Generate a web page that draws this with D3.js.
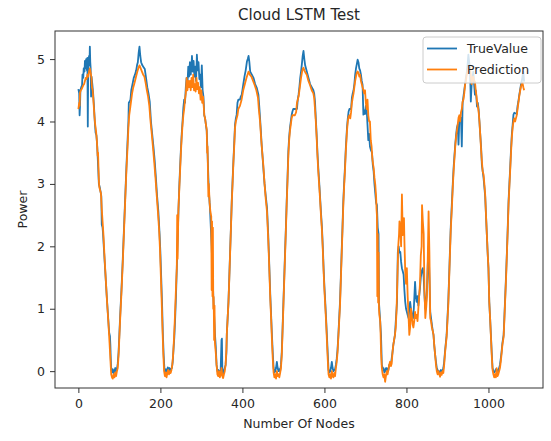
<!DOCTYPE html>
<html>
<head>
<meta charset="utf-8">
<script src="https://cdn.jsdelivr.net/npm/d3@7"></script>
<style>
  body { margin: 0; background: #fff; }
  text { font-family: "DejaVu Sans", sans-serif; fill: #262626; }
</style>
</head>
<body>
<svg id="chart"></svg>
<script>
// chart values: [node index, power]
const trueValue = [[0,4.52],[2,4.45],[3,4.1],[4,4.25],[5,4.5],[7,4.55],[9,4.58],[10,4.75],[12,4.7],[13,4.85],[15,4.8],[16,4.97],[18,4.85],[19,5.0],[21,4.82],[22,5.02],[23,3.92],[24,4.88],[26,5.05],[27,4.9],[28,5.2],[29,4.95],[30,4.85],[31,4.4],[32,4.72],[34,4.6],[36,4.45],[38,4.25],[40,4.0],[42,3.82],[44,3.78],[46,3.6],[48,3.3],[50,3.0],[52,2.95],[54,2.88],[56,2.8],[57,2.35],[59,2.3],[60,2.22],[63,1.88],[66,1.55],[69,1.22],[72,0.92],[75,0.62],[77,0.56],[78,0.42],[79,0.2],[80,0.05],[82,-0.02],[84,0.03],[86,-0.03],[88,0.0],[90,0.05],[92,0.0],[94,0.03],[96,0.12],[98,0.3],[100,0.6],[102,0.9],[105,1.3],[108,1.75],[111,2.25],[114,2.75],[117,3.25],[120,3.7],[122,4.0],[123,4.3],[125,4.32],[127,4.35],[129,4.5],[132,4.6],[135,4.7],[138,4.75],[141,4.82],[143,4.9],[145,4.95],[147,5.1],[149,5.2],[151,5.05],[153,4.95],[156,4.9],[159,4.87],[162,4.84],[165,4.7],[168,4.55],[171,4.45],[174,4.32],[177,4.0],[180,3.8],[183,3.6],[186,3.38],[189,3.1],[192,2.8],[195,2.56],[198,2.2],[200,1.9],[202,1.5],[204,1.1],[206,0.6],[208,0.25],[210,0.02],[212,-0.04],[214,0.03],[216,-0.03],[218,0.06],[220,0.0],[222,0.05],[224,0.0],[226,0.04],[228,0.05],[230,0.15],[232,0.35],[234,0.55],[236,0.85],[238,1.2],[240,1.65],[242,2.1],[244,2.56],[246,2.95],[248,3.26],[250,3.55],[252,3.8],[254,4.0],[256,4.22],[258,4.35],[260,4.3],[262,4.55],[264,4.7],[266,4.6],[268,4.88],[270,4.72],[272,4.95],[274,4.75],[276,4.9],[277,5.05],[279,4.8],[281,4.97],[283,4.72],[285,4.88],[287,4.65],[289,5.07],[291,4.82],[293,4.95],[295,4.68],[297,4.75],[299,4.55],[301,4.9],[303,4.5],[305,4.4],[307,4.1],[309,4.05],[311,3.95],[313,3.85],[315,3.5],[317,3.1],[319,2.8],[321,2.6],[323,2.3],[325,2.0],[327,1.6],[329,1.2],[331,0.9],[333,0.6],[335,0.4],[337,0.1],[339,0.0],[341,0.02],[343,-0.02],[345,0.0],[347,0.02],[349,0.5],[350,0.52],[351,0.05],[353,-0.05],[355,0.0],[357,0.05],[359,0.1],[361,0.3],[362,0.6],[364,0.85],[366,1.11],[368,1.5],[370,1.91],[372,2.3],[374,2.72],[376,3.05],[378,3.36],[380,3.65],[382,3.95],[384,4.05],[386,4.11],[388,4.3],[390,4.35],[394,4.35],[396,4.4],[398,4.42],[400,4.5],[402,4.59],[405,4.72],[408,4.82],[411,4.96],[413,5.0],[415,5.05],[417,4.95],[419,4.8],[423,4.75],[427,4.7],[431,4.6],[435,4.54],[439,4.43],[441,4.25],[443,4.06],[445,3.85],[447,3.62],[449,3.45],[451,3.26],[454,3.0],[457,2.8],[460,2.62],[463,2.18],[465,1.8],[468,1.22],[470,0.9],[472,0.58],[474,0.3],[476,0.05],[478,-0.02],[480,0.0],[482,0.05],[484,0.15],[486,0.05],[488,0.0],[490,0.03],[492,0.0],[494,0.1],[496,0.31],[498,0.7],[500,1.11],[502,1.5],[504,1.91],[506,2.3],[508,2.72],[510,3.1],[512,3.52],[514,3.75],[516,3.9],[518,4.0],[520,4.1],[522,4.16],[524,4.2],[533,4.2],[535,4.35],[537,4.43],[539,4.55],[541,4.7],[543,4.8],[545,4.92],[547,5.05],[549,5.13],[551,5.0],[553,4.9],[557,4.8],[561,4.7],[565,4.6],[569,4.55],[573,4.5],[575,4.45],[577,4.32],[579,4.05],[581,3.79],[583,3.5],[585,3.26],[588,2.95],[590,2.72],[592,2.5],[594,2.3],[596,2.0],[598,1.65],[600,1.35],[602,1.11],[604,0.85],[606,0.58],[608,0.3],[610,0.02],[612,-0.02],[614,0.0],[616,0.05],[618,0.15],[620,0.05],[622,0.0],[624,0.02],[626,0.03],[628,0.1],[630,0.2],[632,0.35],[634,0.58],[636,0.85],[638,1.11],[640,1.5],[642,1.91],[644,2.3],[646,2.72],[648,3.0],[650,3.26],[652,3.55],[655,3.9],[657,4.05],[659,4.16],[661,4.2],[665,4.2],[667,4.38],[669,4.45],[671,4.5],[673,4.6],[675,4.75],[677,4.85],[679,4.92],[681,4.99],[683,4.95],[685,4.85],[687,4.82],[689,4.75],[691,4.65],[693,4.59],[695,4.11],[697,4.18],[699,4.12],[701,4.25],[703,4.2],[705,3.95],[707,3.7],[709,3.8],[711,3.6],[713,3.55],[716,3.5],[718,3.3],[720,3.2],[722,3.0],[724,2.85],[726,2.7],[728,2.66],[730,2.3],[732,2.2],[733,1.1],[735,0.9],[736,0.8],[738,0.58],[740,0.1],[742,0.05],[744,0.05],[746,-0.02],[748,0.0],[750,0.05],[752,0.05],[754,0.0],[756,0.02],[758,0.1],[760,0.12],[762,0.1],[764,0.2],[766,0.3],[768,0.42],[770,0.5],[772,0.58],[774,0.8],[777,1.11],[779,1.91],[781,2.0],[783,1.9],[785,1.91],[787,1.75],[789,1.65],[791,1.6],[793,1.55],[795,1.3],[797,1.11],[799,1.0],[801,0.95],[803,0.9],[805,0.85],[807,1.0],[809,1.11],[811,1.0],[813,0.9],[816,0.85],[818,1.0],[821,1.43],[823,1.2],[825,1.11],[827,1.2],[829,1.05],[831,1.2],[833,1.33],[835,1.5],[837,1.6],[840,1.65],[842,1.5],[844,1.2],[846,1.0],[848,1.1],[850,1.3],[852,1.7],[854,2.0],[856,1.5],[858,0.95],[860,0.85],[862,0.75],[864,0.65],[866,0.58],[868,0.4],[870,0.26],[872,0.15],[874,0.05],[876,0.02],[878,0.0],[880,-0.03],[882,0.0],[884,0.02],[886,-0.02],[888,0.0],[890,0.05],[892,0.15],[894,0.31],[896,0.45],[898,0.58],[900,0.85],[902,1.11],[904,1.5],[906,1.91],[908,2.3],[911,2.72],[913,3.0],[915,3.26],[917,3.45],[919,3.63],[921,3.78],[923,3.9],[925,3.95],[927,3.63],[929,4.05],[931,4.03],[933,4.06],[935,3.6],[937,4.3],[939,4.4],[941,4.5],[943,4.6],[945,4.7],[947,4.78],[949,4.9],[951,5.07],[953,4.95],[955,4.85],[957,4.32],[959,4.6],[961,4.7],[963,4.8],[965,4.6],[967,4.43],[969,4.5],[971,4.35],[972,4.24],[974,4.3],[976,4.2],[978,4.0],[980,3.79],[982,3.6],[984,3.3],[986,3.2],[988,3.1],[990,2.95],[992,2.8],[994,2.5],[996,2.2],[998,1.9],[1000,1.65],[1002,1.11],[1004,0.85],[1006,0.58],[1008,0.3],[1010,0.05],[1012,0.0],[1014,-0.02],[1016,0.0],[1018,0.03],[1020,0.0],[1022,0.02],[1024,0.0],[1026,0.05],[1028,0.1],[1030,0.2],[1032,0.31],[1034,0.45],[1037,0.58],[1039,0.9],[1041,1.22],[1043,1.55],[1045,1.91],[1047,2.3],[1049,2.72],[1051,3.0],[1053,3.26],[1055,3.55],[1057,3.79],[1059,3.95],[1061,4.11],[1063,4.14],[1069,4.12],[1071,4.25],[1073,4.32],[1075,4.42],[1077,4.5],[1079,4.58],[1081,4.64],[1083,4.72],[1085,4.8],[1087,4.64]];

const prediction = [[0,4.2],[2,4.3],[3,4.25],[4,4.46],[6,4.5],[8,4.52],[10,4.55],[12,4.58],[14,4.6],[16,4.65],[18,4.7],[20,4.68],[22,4.75],[24,4.72],[26,4.8],[28,4.85],[30,4.78],[32,4.7],[33,4.55],[35,4.5],[37,4.3],[39,4.1],[41,3.95],[43,3.85],[45,3.7],[47,3.45],[48,3.5],[50,3.05],[51,2.95],[53,2.9],[55,2.85],[57,2.6],[59,2.4],[61,2.2],[64,1.8],[67,1.45],[70,1.1],[73,0.8],[76,0.45],[78,0.2],[80,-0.05],[82,-0.1],[84,-0.12],[86,-0.05],[88,-0.1],[90,-0.02],[92,-0.08],[94,0.0],[96,0.05],[98,0.25],[100,0.55],[102,0.85],[105,1.25],[108,1.7],[111,2.2],[114,2.7],[117,3.2],[120,3.6],[122,3.9],[124,4.1],[126,4.2],[128,4.3],[131,4.45],[134,4.55],[137,4.62],[140,4.7],[143,4.78],[146,4.85],[149,4.9],[152,4.85],[155,4.8],[158,4.75],[161,4.72],[164,4.62],[167,4.5],[170,4.4],[173,4.25],[176,4.0],[179,3.8],[182,3.58],[185,3.35],[188,3.1],[191,2.82],[194,2.55],[197,2.25],[199,1.95],[201,1.55],[203,1.15],[205,0.7],[207,0.3],[209,0.0],[211,-0.08],[213,-0.02],[215,-0.1],[217,-0.03],[219,0.02],[221,-0.05],[223,0.0],[225,-0.03],[227,0.02],[229,0.1],[231,0.25],[233,0.5],[235,0.8],[237,1.15],[239,1.5],[240,1.65],[241,2.5],[242,1.8],[243,2.2],[244,2.6],[246,2.9],[248,3.2],[250,3.5],[252,3.75],[254,3.95],[256,4.1],[258,4.2],[260,4.35],[262,4.45],[264,4.7],[266,4.5],[268,4.65],[270,4.55],[272,4.65],[274,4.5],[276,4.7],[278,4.55],[280,4.75],[282,4.5],[284,4.6],[286,4.48],[288,4.7],[290,4.52],[292,4.62],[294,4.45],[296,4.55],[298,4.35],[300,4.5],[302,4.3],[304,4.4],[305,4.32],[307,4.1],[309,4.05],[311,3.95],[313,3.87],[314,3.5],[315,3.6],[317,2.8],[318,3.0],[320,2.7],[322,2.55],[324,2.48],[325,1.3],[326,2.4],[327,1.2],[328,2.3],[329,1.0],[330,1.19],[331,0.5],[332,1.05],[333,0.45],[335,0.3],[337,0.1],[339,-0.05],[341,-0.08],[343,0.0],[345,-0.1],[347,-0.05],[349,0.05],[351,-0.08],[353,-0.11],[355,-0.05],[357,0.0],[359,0.1],[361,0.35],[362,0.6],[364,0.85],[366,1.1],[368,1.48],[370,1.88],[372,2.28],[374,2.7],[376,3.0],[378,3.33],[380,3.6],[382,3.9],[384,4.0],[386,4.05],[388,4.1],[390,4.2],[394,4.25],[398,4.35],[402,4.5],[406,4.6],[410,4.7],[413,4.76],[415,4.8],[418,4.75],[422,4.72],[426,4.65],[430,4.58],[434,4.5],[438,4.38],[440,4.2],[443,4.0],[446,3.7],[449,3.45],[451,3.3],[454,3.0],[457,2.75],[460,2.55],[463,2.1],[465,1.75],[468,1.15],[470,0.85],[472,0.5],[474,0.2],[476,-0.02],[478,-0.1],[480,-0.05],[482,-0.12],[484,0.0],[486,-0.08],[488,-0.05],[490,-0.1],[492,-0.03],[494,0.05],[496,0.25],[498,0.65],[500,1.05],[502,1.45],[504,1.85],[506,2.25],[508,2.68],[510,3.05],[512,3.45],[514,3.7],[516,3.85],[518,3.95],[520,4.05],[522,4.1],[524,4.1],[528,4.1],[531,4.15],[533,4.3],[535,4.35],[537,4.4],[539,4.5],[541,4.6],[543,4.7],[545,4.78],[547,4.84],[549,4.86],[551,4.82],[554,4.78],[557,4.75],[561,4.65],[565,4.58],[569,4.5],[573,4.45],[575,4.38],[577,4.2],[579,4.0],[581,3.75],[583,3.45],[585,3.2],[588,2.9],[590,2.68],[592,2.45],[594,2.25],[596,1.95],[598,1.6],[600,1.3],[602,1.05],[604,0.8],[606,0.5],[608,0.2],[610,-0.05],[612,-0.1],[614,-0.05],[616,-0.12],[618,0.0],[620,-0.08],[622,-0.1],[624,-0.03],[626,-0.08],[628,0.05],[630,0.15],[632,0.3],[634,0.55],[636,0.8],[638,1.05],[640,1.45],[642,1.85],[644,2.25],[646,2.65],[648,2.95],[650,3.2],[652,3.5],[655,3.85],[657,4.0],[659,4.08],[661,4.1],[663,4.05],[665,4.15],[667,4.3],[669,4.38],[671,4.45],[673,4.55],[675,4.65],[677,4.72],[679,4.78],[681,4.8],[683,4.78],[685,4.72],[687,4.75],[689,4.65],[691,4.6],[693,4.55],[695,4.5],[697,4.45],[699,4.5],[701,4.3],[703,4.2],[705,4.35],[707,4.1],[709,4.0],[711,4.0],[713,3.7],[715,3.6],[717,3.4],[719,3.3],[720,3.26],[722,3.1],[724,2.99],[726,2.8],[727,2.6],[728,2.5],[729,1.2],[730,2.2],[731,1.1],[732,1.9],[733,1.0],[734,0.9],[736,0.8],[737,0.6],[738,0.31],[740,0.05],[742,-0.05],[744,-0.1],[746,-0.05],[748,-0.17],[750,-0.08],[752,0.0],[754,-0.05],[756,0.02],[758,0.1],[760,0.15],[762,0.08],[764,0.12],[766,0.3],[768,0.42],[770,0.5],[772,0.58],[774,0.7],[776,1.0],[778,1.5],[780,2.0],[782,2.2],[783,2.4],[785,2.3],[787,2.0],[789,2.83],[790,2.5],[791,2.18],[793,2.3],[794,2.45],[795,2.1],[797,1.6],[799,1.4],[801,1.65],[803,1.2],[805,0.9],[807,0.58],[809,0.7],[811,1.0],[813,0.9],[815,0.75],[817,0.7],[819,0.8],[821,0.95],[823,0.85],[825,0.9],[827,0.8],[829,1.0],[831,1.2],[833,1.4],[835,1.85],[837,2.0],[838,2.66],[840,2.4],[842,2.2],[844,1.3],[846,0.85],[848,1.0],[850,1.2],[852,1.8],[854,2.56],[856,1.9],[858,0.85],[860,0.8],[862,0.7],[864,0.65],[866,0.58],[868,0.4],[870,0.26],[872,0.1],[874,0.0],[876,-0.05],[878,0.0],[880,-0.05],[882,-0.09],[884,-0.02],[886,-0.06],[888,0.0],[890,-0.03],[892,0.1],[894,0.28],[896,0.42],[898,0.55],[900,0.8],[902,1.05],[904,1.45],[906,1.85],[908,2.25],[911,2.65],[913,2.95],[915,3.2],[917,3.4],[919,3.6],[921,3.75],[923,3.85],[925,3.95],[927,4.06],[929,4.1],[931,4.0],[933,4.15],[935,4.2],[937,4.32],[939,4.35],[941,4.45],[943,4.59],[945,4.65],[947,4.75],[949,4.8],[951,4.86],[953,4.8],[955,4.85],[957,4.75],[959,4.6],[961,4.7],[963,4.72],[965,4.65],[967,4.64],[969,4.5],[971,4.4],[972,4.32],[974,4.25],[976,4.16],[978,4.0],[980,3.79],[982,3.55],[984,3.36],[986,3.2],[988,3.15],[990,3.0],[992,2.83],[994,2.5],[996,2.2],[998,1.9],[1000,1.65],[1002,1.1],[1004,0.85],[1006,0.55],[1008,0.25],[1010,0.02],[1012,-0.05],[1014,-0.1],[1016,-0.05],[1018,-0.1],[1020,0.05],[1022,-0.08],[1024,-0.05],[1026,0.0],[1028,0.05],[1030,0.15],[1032,0.28],[1034,0.42],[1037,0.55],[1039,0.85],[1041,1.18],[1043,1.5],[1045,1.88],[1047,2.25],[1049,2.68],[1051,2.95],[1053,3.22],[1055,3.5],[1057,3.75],[1059,3.9],[1061,4.0],[1063,4.05],[1065,4.0],[1067,4.05],[1069,4.1],[1071,4.2],[1073,4.3],[1075,4.4],[1077,4.48],[1079,4.55],[1081,4.6],[1083,4.62],[1085,4.55],[1087,4.5]];

const xTicks = [0, 200, 400, 600, 800, 1000];
const yTicks = [0, 1, 2, 3, 4, 5];
const seriesNames = ["TrueValue", "Prediction"];
const seriesColors = ["#1f77b4", "#ff7f0e"];

const width = 551, height = 441;
const margin = {top: 31, right: 8, bottom: 53, left: 55};
const plotW = width - margin.left - margin.right,
      plotH = height - margin.top - margin.bottom;

const svg = d3.select("#chart")
    .attr("width", width)
    .attr("height", height);

svg.append("rect").attr("width", width).attr("height", height).attr("fill", "#fff");

const x = d3.scaleLinear().domain([-57, 1133]).range([0, plotW]);
const y = d3.scaleLinear().domain([-0.27, 5.45]).range([plotH, 0]);

const g = svg.append("g").attr("transform", `translate(${margin.left},${margin.top})`);

// lines
const line = d3.line().x(d => x(d[0])).y(d => y(d[1]));
[trueValue, prediction].forEach((s, i) => {
  g.append("path")
    .datum(s)
    .attr("fill", "none")
    .attr("stroke", seriesColors[i])
    .attr("stroke-width", 1.8)
    .attr("stroke-linejoin", "round")
    .attr("d", line);
});

// axes
const xAxis = g.append("g")
    .attr("transform", `translate(0,${plotH})`)
    .call(d3.axisBottom(x).tickValues(xTicks).tickFormat(d3.format("d")).tickSize(5).tickPadding(6));
const yAxis = g.append("g")
    .call(d3.axisLeft(y).tickValues(yTicks).tickFormat(d3.format("d")).tickSize(5).tickPadding(5));
[xAxis, yAxis].forEach(a => {
  a.select(".domain").remove();
  a.selectAll("line").attr("stroke", "#333");
  a.selectAll("text").style("font-size", "12.5px").attr("fill", "#262626")
    .style("font-family", "DejaVu Sans, sans-serif");
});

// frame
g.append("rect")
  .attr("width", plotW).attr("height", plotH)
  .attr("fill", "none").attr("stroke", "#333").attr("stroke-width", 1);

// title and labels
svg.append("text")
  .attr("x", margin.left + plotW / 2).attr("y", 20)
  .attr("text-anchor", "middle")
  .style("font-size", "15px")
  .text("Cloud LSTM Test");

svg.append("text")
  .attr("x", margin.left + plotW / 2).attr("y", 428)
  .attr("text-anchor", "middle")
  .style("font-size", "12.5px")
  .text("Number Of Nodes");

svg.append("text")
  .attr("transform", `translate(27,${margin.top + plotH / 2}) rotate(-90)`)
  .attr("text-anchor", "middle")
  .style("font-size", "12.5px")
  .text("Power");

// legend
const legend = svg.append("g").attr("transform", "translate(423,37)");
legend.append("rect")
  .attr("width", 118).attr("height", 46).attr("rx", 3)
  .attr("fill", "#fff").attr("fill-opacity", 0.8)
  .attr("stroke", "#ccc");
seriesNames.forEach((name, i) => {
  const yy = 11.5 + i * 21;
  legend.append("line")
    .attr("x1", 4).attr("x2", 34).attr("y1", yy).attr("y2", yy)
    .attr("stroke", seriesColors[i]).attr("stroke-width", 1.8);
  legend.append("text")
    .attr("x", 44).attr("y", yy + 4.5)
    .style("font-size", "12.5px")
    .text(name);
});
</script>
</body>
</html>
